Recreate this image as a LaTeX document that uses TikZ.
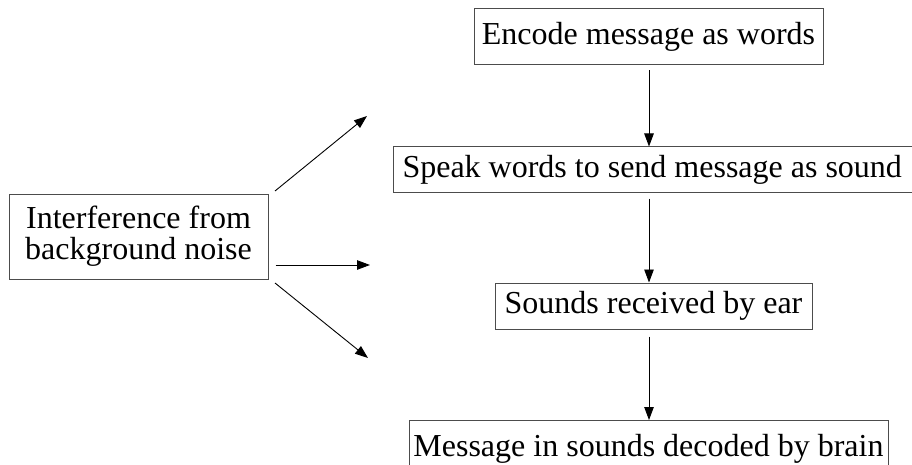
\documentclass[tikz,border=0pt]{standalone}
\usepackage{fontspec}
\setmainfont{Liberation Serif}
\usetikzlibrary{arrows.meta}
\begin{document}
\begin{tikzpicture}[x=1pt,y=-1pt,
  stagebox/.style={draw=black!70,line width=1pt,inner sep=0pt,
    font=\fontsize{32}{32.5}\selectfont,align=center},
  flow/.style={draw=black,line width=0.9pt,-{Triangle[length=13pt,width=9.5pt]}}]
\clip (0,0) rectangle (912,465);
\useasboundingbox (0,0) rectangle (912,465);

% processing chain
\node[stagebox,minimum width=349pt,minimum height=56pt] (enc) at (648.5,37) {Encode message as words};
\node[stagebox,minimum height=45pt,anchor=west] (speak) at (393,169.5) {\hspace*{9pt}Speak words to send message as sound\hspace*{20pt}};
\node[stagebox,minimum width=317pt,minimum height=46pt] (ear) at (653.5,306) {Sounds received by ear};
\node[stagebox,minimum width=479pt,minimum height=56pt,anchor=north] (brain) at (648.5,420) {Message in sounds decoded by brain};

% noise source
\node[stagebox,minimum width=259pt,minimum height=85pt] (noise) at (138.5,236.5) {Interference from\\[-1.5pt]background noise};

% vertical flow between stages
\draw[flow,shorten <=5pt] (enc.south -| 649,0) -- (speak.north -| 649,0);
\draw[flow,shorten <=6pt] (speak.south -| 649,0) -- (ear.north -| 649,0);
\draw[flow,shorten <=7pt] (ear.south -| 649,0) -- (brain.north -| 649,0);

% noise entering the channel
\coordinate (n1) at (367,116);
\coordinate (n2) at (370,265);
\coordinate (n3) at (368,358);
\draw[flow] (275,191) -- (n1);
\draw[flow] (noise.east |- 0,265) ++(7,0) -- (n2);
\draw[flow] (275,283) -- (n3);
\end{tikzpicture}
\end{document}
